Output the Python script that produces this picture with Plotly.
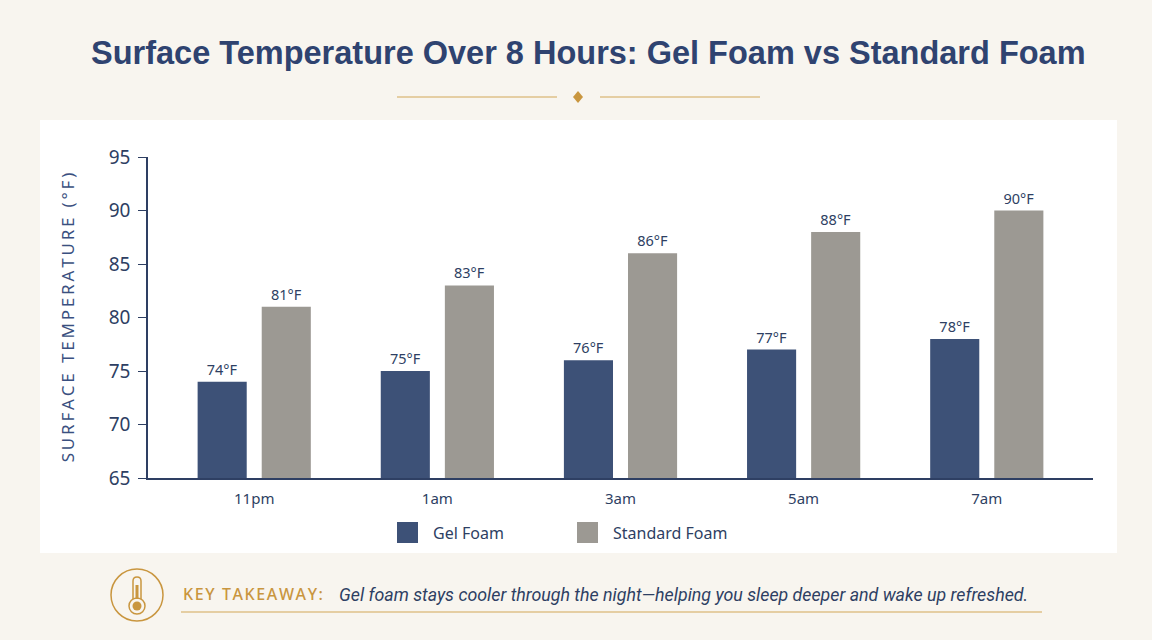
import plotly.graph_objects as go

# data
hours = ["11pm", "1am", "3am", "5am", "7am"]
gel_foam = [74, 75, 76, 77, 78]
standard_foam = [81, 83, 86, 88, 90]
series_names = ["Gel Foam", "Standard Foam"]
y_ticks = [65, 70, 75, 80, 85, 90, 95]

W, H = 1152, 640
NAVY = "#2e3f63"
GEL = "#3d5177"
STD = "#9c9993"
GOLD = "#c9963f"
GOLD_LIGHT = "#dfc08a"
CREAM = "#f8f5ef"

# plot area in pixels
L, R, T, B = 148, 1093, 157, 478


def px(x):
    return (x - L) / (R - L)


def py(y):
    return (B - y) / (B - T)


def spaced(s, gap="\u2009"):
    # letter-spaced look for caps labels
    return gap.join(s)


fig = go.Figure()
fig.add_trace(go.Bar(
    x=hours, y=gel_foam, name=series_names[0],
    marker=dict(color=GEL, line=dict(width=0)),
    text=[f"{v}°F" for v in gel_foam], textposition="outside",
    textfont=dict(size=14.5, color=NAVY, family="Noto Sans"),
    cliponaxis=False,
))
fig.add_trace(go.Bar(
    x=hours, y=standard_foam, name=series_names[1],
    marker=dict(color=STD, line=dict(width=0)),
    text=[f"{v}°F" for v in standard_foam], textposition="outside",
    textfont=dict(size=14.5, color=NAVY, family="Noto Sans"),
    cliponaxis=False,
))

shapes = []
# white panel behind chart
shapes.append(dict(type="rect", xref="paper", yref="paper", layer="below",
                   x0=px(40), x1=px(1117), y0=py(553), y1=py(120),
                   fillcolor="white", line=dict(width=0)))
# divider under title
shapes.append(dict(type="line", xref="paper", yref="paper",
                   x0=px(397), x1=px(557), y0=py(97), y1=py(97),
                   line=dict(color=GOLD_LIGHT, width=1.5)))
shapes.append(dict(type="line", xref="paper", yref="paper",
                   x0=px(600), x1=px(760), y0=py(97), y1=py(97),
                   line=dict(color=GOLD_LIGHT, width=1.5)))
shapes.append(dict(type="path", xref="paper", yref="paper",
                   xsizemode="pixel", ysizemode="pixel",
                   xanchor=px(578), yanchor=py(97),
                   path="M 0 6 L 5 0 L 0 -6 L -5 0 Z",
                   fillcolor=GOLD, line=dict(width=0)))

# custom legend squares
legend_x = [397, 577]
legend_cols = [GEL, STD]
for lx, col in zip(legend_x, legend_cols):
    shapes.append(dict(type="rect", xref="paper", yref="paper",
                       x0=px(lx), x1=px(lx + 21), y0=py(543), y1=py(522),
                       fillcolor=col, line=dict(width=0)))

# thermometer icon
icx, icy = 137, 595
shapes.append(dict(type="circle", xref="paper", yref="paper",
                   xsizemode="pixel", ysizemode="pixel",
                   xanchor=px(icx), yanchor=py(icy),
                   x0=-26, x1=26, y0=-26, y1=26,
                   line=dict(color=GOLD, width=1.5)))
shapes.append(dict(type="path", xref="paper", yref="paper",
                   xsizemode="pixel", ysizemode="pixel",
                   xanchor=px(icx), yanchor=py(icy),
                   path="M -4 -4 L -4 14 Q -4 18 0 18 Q 4 18 4 14 L 4 -4",
                   line=dict(color=GOLD, width=1.5)))
shapes.append(dict(type="circle", xref="paper", yref="paper",
                   xsizemode="pixel", ysizemode="pixel",
                   xanchor=px(icx), yanchor=py(icy + 11),
                   x0=-8, x1=8, y0=-8, y1=8,
                   fillcolor=CREAM, line=dict(color=GOLD, width=1.5)))
shapes.append(dict(type="circle", xref="paper", yref="paper",
                   xsizemode="pixel", ysizemode="pixel",
                   xanchor=px(icx), yanchor=py(icy + 11),
                   x0=-4.5, x1=4.5, y0=-4.5, y1=4.5,
                   fillcolor=GOLD, line=dict(width=0)))
shapes.append(dict(type="line", xref="paper", yref="paper",
                   xsizemode="pixel", ysizemode="pixel",
                   xanchor=px(icx), yanchor=py(icy),
                   x0=0, x1=0, y0=-4, y1=10,
                   line=dict(color=GOLD, width=3)))
# takeaway underline
shapes.append(dict(type="line", xref="paper", yref="paper",
                   x0=px(181), x1=px(1042), y0=py(612), y1=py(612),
                   line=dict(color=GOLD_LIGHT, width=1.5)))

annotations = [
    dict(text="<b>Surface Temperature Over 8 Hours: Gel Foam vs Standard Foam</b>",
         x=px(588), y=py(53), xref="paper", yref="paper", showarrow=False,
         xanchor="center", yanchor="middle",
         font=dict(size=32.5, color="#2f4370", family="Liberation Sans, Arial, sans-serif")),
    dict(text=spaced("KEY TAKEAWAY:", "\u200a"), x=px(181), y=py(594), xref="paper", yref="paper",
         showarrow=False, xanchor="left", yanchor="middle",
         font=dict(size=16, color=GOLD, family="Noto Sans", weight=500)),
    dict(text="<i>Gel foam stays cooler through the night—helping you sleep deeper and wake up refreshed.</i>",
         x=px(337), y=py(594), xref="paper", yref="paper",
         showarrow=False, xanchor="left", yanchor="middle",
         font=dict(size=17.8, color=NAVY, family="Roboto")),
]
for lx, name in zip(legend_x, series_names):
    annotations.append(dict(text=name, x=px(lx + 34), y=py(533), xref="paper", yref="paper",
                            showarrow=False, xanchor="left", yanchor="middle",
                            font=dict(size=16, color=NAVY, family="Noto Sans")))

fig.update_layout(
    width=W, height=H,
    margin=dict(l=L, r=W - R, t=T, b=H - B),
    paper_bgcolor=CREAM, plot_bgcolor="white",
    barmode="group", bargap=0.30, bargroupgap=0.234,
    showlegend=False,
    shapes=shapes, annotations=annotations,
    font=dict(family="Noto Sans", color=NAVY),
)
fig.update_xaxes(
    showline=True, linecolor=NAVY, linewidth=1.5, showgrid=False,
    ticks="", tickfont=dict(size=15, color=NAVY), ticklabelstandoff=6,
    range=[-0.58, 4.58],
)
fig.update_yaxes(
    range=[65, 95], tickvals=y_ticks, showgrid=False, zeroline=False,
    showline=True, linecolor=NAVY, linewidth=1.5,
    ticks="outside", ticklen=8, tickcolor=NAVY, tickwidth=1.2,
    ticklabelstandoff=4,
    tickfont=dict(size=19, color=NAVY),
    title=dict(text=spaced("SURFACE TEMPERATURE (°F)"), standoff=30,
               font=dict(size=17, color="#3a5080")),
)

fig.write_html("out.html", config={"displayModeBar": False},
               post_script="document.body.style.margin='0';")
